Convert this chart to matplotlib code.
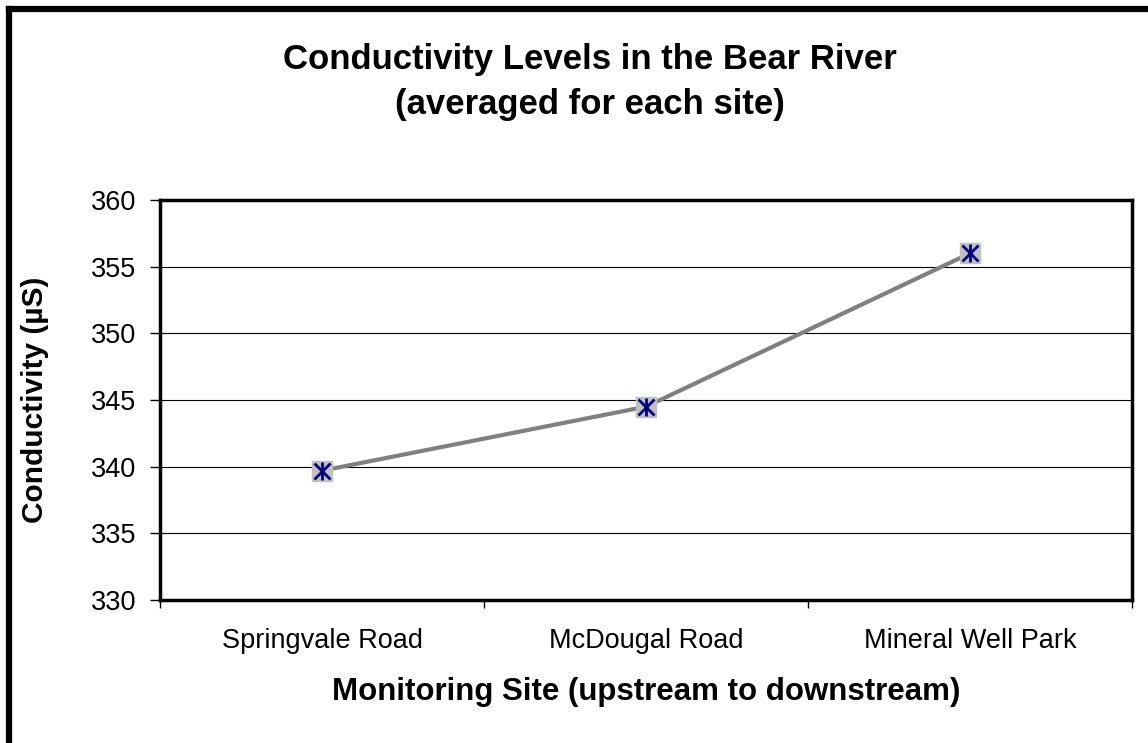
import matplotlib.pyplot as plt
from matplotlib.lines import Line2D

plt.rcParams['font.family'] = ['Liberation Sans', 'DejaVu Sans']

# conductivity averaged per site
sites = ['Springvale Road', 'McDougal Road', 'Mineral Well Park']
conductivity = [339.7, 344.5, 356.0]
yticks = [330, 335, 340, 345, 350, 355, 360]

W, H = 1148, 743
fig = plt.figure(figsize=(W / 100, H / 100), dpi=100)
ax = fig.add_axes([160 / W, 1 - 600 / H, (1132 - 160) / W, (600 - 200) / H])

x = [0.5, 1.5, 2.5]
ax.plot(x, conductivity, color='#808080', lw=3, zorder=3)
ax.plot(x, conductivity, 's', ms=14.5, color='#c0c0c0', zorder=4)
# excel-style star marker: an x plus a vertical bar
ax.plot(x, conductivity, 'x', ms=11.5, mew=2, color='#000080', zorder=5)
ax.plot(x, conductivity, '|', ms=12.5, mew=2, color='#000080', zorder=5)

ax.set_xlim(0, 3)
ax.set_ylim(330, 360)
ax.set_yticks(yticks)
ax.set_xticks([0, 1, 2, 3])
ax.set_xticklabels([])
ax.set_xticks(x, minor=True)
ax.set_xticklabels(sites, minor=True, fontsize=19.5)
ax.tick_params(axis='x', which='minor', length=0, pad=20)
ax.tick_params(axis='x', which='major', length=6, width=1, direction='out')
ax.tick_params(axis='y', length=7, width=1, direction='out', labelsize=19.5, pad=10)
ax.grid(axis='y', color='black', lw=0.8)
ax.set_axisbelow(True)
for s in ax.spines.values():
    s.set_linewidth(2.5)

ax.set_ylabel('Conductivity (µS)', fontsize=21.5, fontweight='bold', labelpad=30)
ax.set_xlabel('Monitoring Site (upstream to downstream)', fontsize=22.5,
              fontweight='bold', labelpad=17)

fig.text(590 / W, 1 - 82 / H, 'Conductivity Levels in the Bear River\n(averaged for each site)',
         ha='center', va='center', fontsize=25, fontweight='bold', linespacing=1.45)

# outer chart frame (only left and top edges visible)
fig.add_artist(Line2D([9 / W, 9 / W], [0, 1 - 9 / H], transform=fig.transFigure,
                      color='black', lw=4.5, solid_capstyle='projecting'))
fig.add_artist(Line2D([9 / W, 1], [1 - 9 / H, 1 - 9 / H], transform=fig.transFigure,
                      color='black', lw=4.5, solid_capstyle='projecting'))

fig.savefig('out.png', dpi=100)
